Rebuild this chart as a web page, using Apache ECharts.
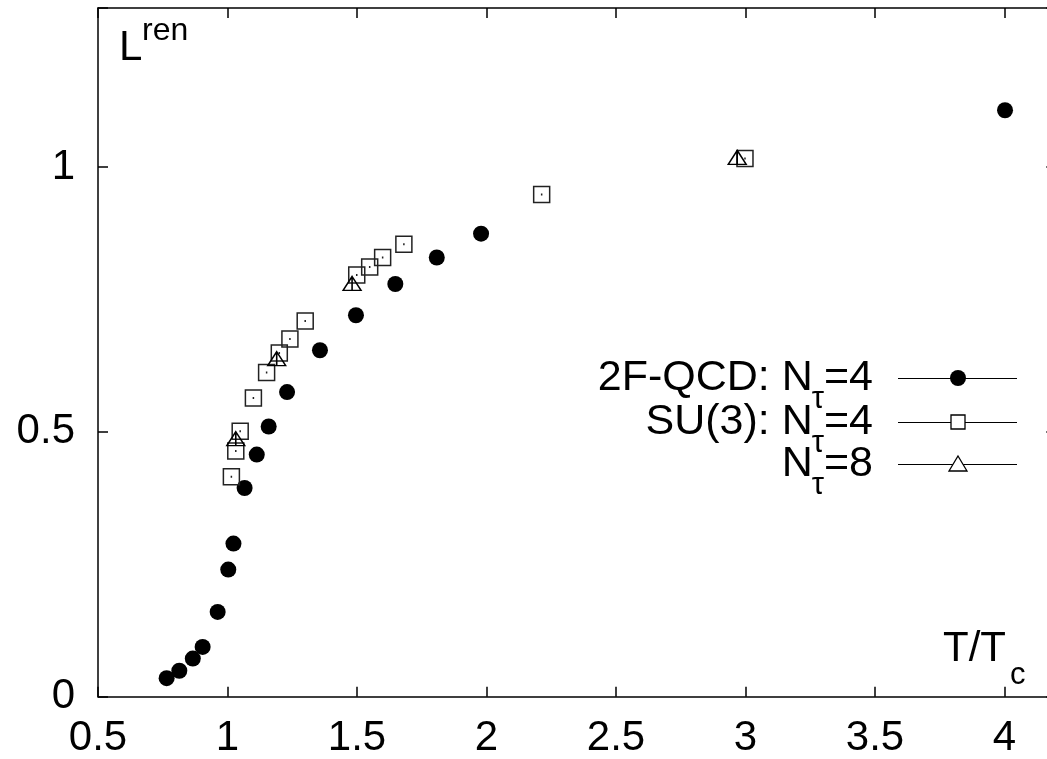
<!DOCTYPE html>
<html>
<head>
<meta charset="utf-8">
<script src="https://cdn.jsdelivr.net/npm/echarts@6/dist/echarts.min.js"></script>
<style>
  html, body { margin: 0; padding: 0; background: #fff; }
  #chart { width: 1047px; height: 759px; }
</style>
</head>
<body>
<div id="chart"></div>
<script>
// Renormalized Polyakov loop L^ren versus T/Tc

// 2-flavour QCD, N_tau = 4
const qcdT = [0.765, 0.814, 0.866, 0.904, 0.962, 1.003, 1.023, 1.066, 1.113, 1.159,
              1.230, 1.357, 1.496, 1.648, 1.808, 1.979, 4.002];
const qcdL = [0.035, 0.049, 0.072, 0.094, 0.160, 0.240, 0.289, 0.394, 0.457, 0.510,
              0.575, 0.654, 0.720, 0.779, 0.829, 0.874, 1.107];

// SU(3) pure gauge, N_tau = 4
const su3n4T = [1.015, 1.032, 1.049, 1.100, 1.151, 1.200, 1.241, 1.300, 1.499, 1.549,
                1.599, 1.681, 2.213, 2.998];
const su3n4L = [0.415, 0.464, 0.501, 0.564, 0.612, 0.649, 0.675, 0.709, 0.796, 0.811,
                0.829, 0.854, 0.948, 1.016];

// SU(3) pure gauge, N_tau = 8
const su3n8T = [1.032, 1.190, 1.481, 2.968];
const su3n8L = [0.487, 0.638, 0.780, 1.018];

// Axis tick labels
const xTickLabels = ['0.5', '1', '1.5', '2', '2.5', '3', '3.5', '4'];
const yTickLabels = ['0', '0.5', '1'];

// Legend entries: [main text, subscript, tail]
const legendRows = [
  ['2F-QCD: N', 'τ', '=4'],
  ['SU(3): N', 'τ', '=4'],
  ['N', 'τ', '=8']
];

const FONT = '"Liberation Sans", Arial, Helvetica, sans-serif';
const BIG = 42;
const KEY = 43;
const SMALL = 31;

const pairs = (xs, ys) => xs.map((x, i) => [x, ys[i]]);
const tickFmt = (labels) => (v) => {
  const s = String(+v.toFixed(3));
  return labels.includes(s) ? s : '';
};

const SQUARE = 'path://M0,0H16V16H0Z M8,7V9';
const TRIANGLE = 'path://M9,0L18,14L0,14Z M9,0V14';

function baseAxis(extra) {
  return Object.assign({
    type: 'value',
    splitLine: { show: false },
    axisLine: { show: true, onZero: false, lineStyle: { color: '#000', width: 1.5 } },
    axisTick: { show: true, inside: true, length: 10, lineStyle: { color: '#000', width: 1.5 } }
  }, extra);
}

const chart = echarts.init(document.getElementById('chart'), null, { renderer: 'canvas' });

// text measuring for right-aligned legend labels
const ctx = document.createElement('canvas').getContext('2d');
function textWidth(t, size) {
  ctx.font = size + 'px ' + FONT;
  return ctx.measureText(t).width;
}

const graphics = [];
const legendRight = 873;
const legendY = [378, 422, 464];
const lineX0 = 898, lineX1 = 1017, markX = 958;

legendRows.forEach((row, i) => {
  const y = legendY[i];
  const wTail = textWidth(row[2], KEY);
  const wSub = textWidth(row[1], SMALL);
  graphics.push({
    type: 'text', x: legendRight, y: y,
    style: { text: row[2], font: KEY + 'px ' + FONT, fill: '#000', align: 'right', verticalAlign: 'middle' }
  });
  graphics.push({
    type: 'text', x: legendRight - wTail - wSub, y: y + 21,
    style: { text: row[1], font: SMALL + 'px ' + FONT, fill: '#000', align: 'left', verticalAlign: 'middle' }
  });
  graphics.push({
    type: 'text', x: legendRight - wTail - wSub + 1, y: y,
    style: { text: row[0], font: KEY + 'px ' + FONT, fill: '#000', align: 'right', verticalAlign: 'middle' }
  });
  graphics.push({
    type: 'line', shape: { x1: lineX0, y1: y + 0.5, x2: lineX1, y2: y + 0.5 },
    style: { stroke: '#000', lineWidth: 1 }
  });
});
// legend markers
graphics.push({ type: 'circle', shape: { cx: markX, cy: legendY[0], r: 8 }, style: { fill: '#000' }, z: 10 });
graphics.push({ type: 'rect', shape: { x: markX - 7, y: legendY[1] - 7, width: 14, height: 14 },
  style: { fill: '#fff', stroke: '#000', lineWidth: 1.3 }, z: 10 });
graphics.push({ type: 'polygon', shape: { points: [[markX, legendY[2] - 8], [markX + 9, legendY[2] + 7], [markX - 9, legendY[2] + 7]] },
  style: { fill: '#fff', stroke: '#000', lineWidth: 1.3 }, z: 10 });

// axis titles
graphics.push({ type: 'text', x: 119, y: 48.5,
  style: { text: 'L', font: BIG + 'px ' + FONT, fill: '#000', align: 'left', verticalAlign: 'middle' } });
graphics.push({ type: 'text', x: 142, y: 31,
  style: { text: 'ren', font: 32 + 'px ' + FONT, fill: '#000', align: 'left', verticalAlign: 'middle' } });
graphics.push({ type: 'text', x: 943, y: 649,
  style: { text: 'T/T', font: BIG + 'px ' + FONT, fill: '#000', align: 'left', verticalAlign: 'middle' } });
graphics.push({ type: 'text', x: 1010, y: 675,
  style: { text: 'c', font: SMALL + 'px ' + FONT, fill: '#000', align: 'left', verticalAlign: 'middle' } });

const option = {
  backgroundColor: '#fff',
  animation: false,
  textStyle: { fontFamily: FONT },
  // the frame runs slightly past the right edge of the page
  grid: { left: 98, top: 8, width: 958.3, height: 688.7, show: false,
          outerBoundsMode: 'none', containLabel: false },
  xAxis: [
    baseAxis({
      position: 'bottom', min: 0.5, max: 4.2, interval: 0.5,
      axisLabel: { show: true, color: '#000', fontSize: BIG, fontFamily: FONT, margin: 21,
                   formatter: tickFmt(xTickLabels), hideOverlap: false }
    }),
    baseAxis({
      position: 'top', min: 0.5, max: 4.2, interval: 0.5,
      axisLabel: { show: false }
    })
  ],
  yAxis: [
    baseAxis({
      position: 'left', min: 0, max: 1.3, interval: 0.5,
      axisLabel: { show: true, color: '#000', fontSize: BIG, fontFamily: FONT, margin: 23,
                   formatter: tickFmt(yTickLabels), hideOverlap: false }
    }),
    baseAxis({
      position: 'right', min: 0, max: 1.3, interval: 0.5,
      axisLabel: { show: false }
    })
  ],
  series: [
    {
      name: '2F-QCD: Nτ=4', type: 'scatter', xAxisIndex: 0, yAxisIndex: 0,
      symbol: 'circle', symbolSize: 16,
      itemStyle: { color: '#000', opacity: 1 },
      data: pairs(qcdT, qcdL), z: 3
    },
    {
      name: 'SU(3): Nτ=4', type: 'scatter', xAxisIndex: 0, yAxisIndex: 0,
      symbol: SQUARE, symbolSize: 16,
      itemStyle: { color: 'rgba(0,0,0,0)', borderColor: '#222', borderWidth: 1.5, opacity: 1 },
      data: pairs(su3n4T, su3n4L), z: 4
    },
    {
      name: 'SU(3): Nτ=8', type: 'scatter', xAxisIndex: 0, yAxisIndex: 0,
      symbol: TRIANGLE, symbolSize: [18, 14],
      itemStyle: { color: 'rgba(0,0,0,0)', borderColor: '#000', borderWidth: 1.4, opacity: 1 },
      data: pairs(su3n8T, su3n8L), z: 5
    }
  ],
  graphic: graphics
};

chart.setOption(option);
</script>
</body>
</html>
